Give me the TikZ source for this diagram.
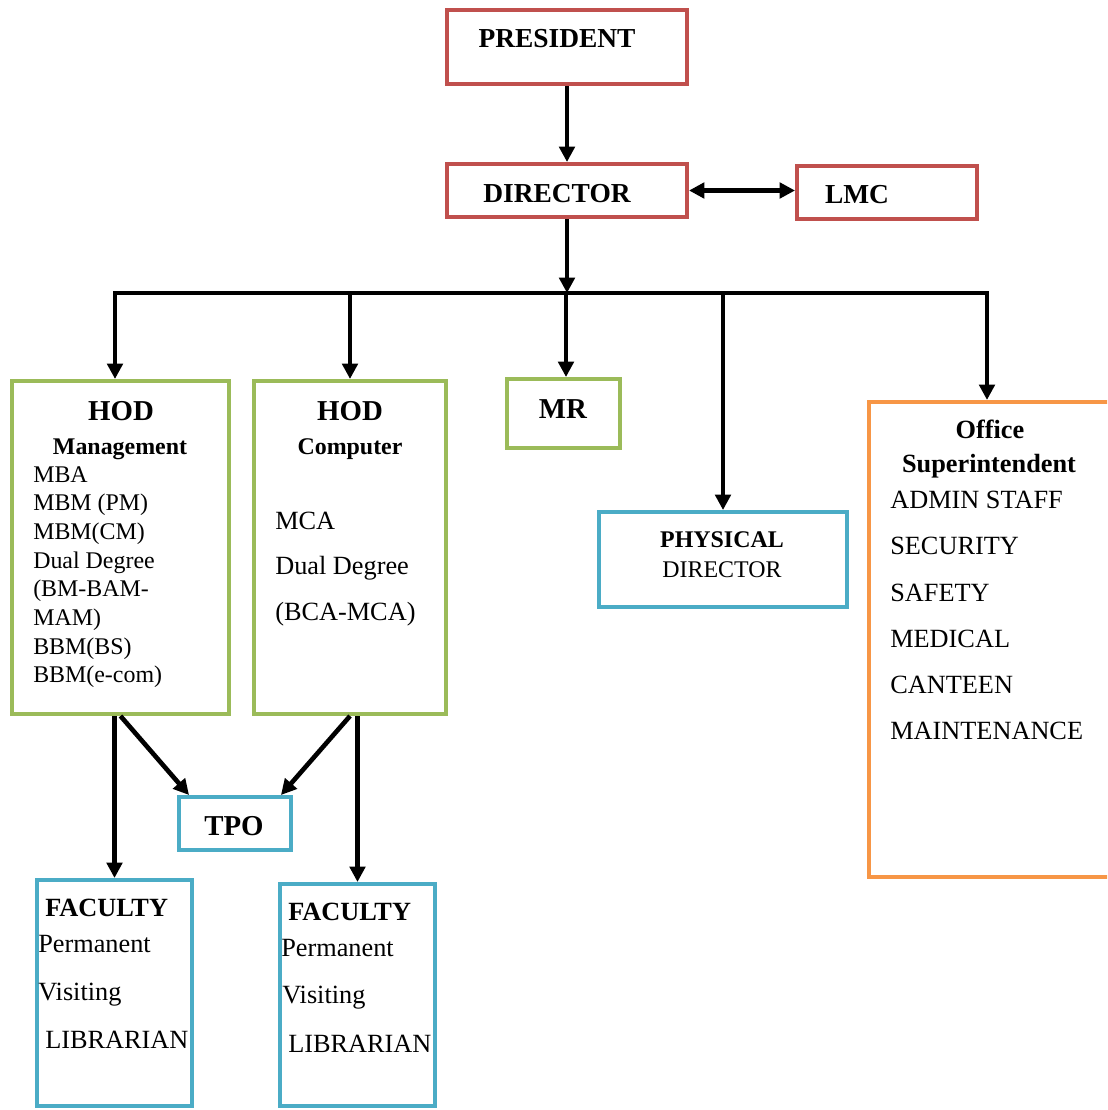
\documentclass[tikz,border=0pt]{standalone}
\usepackage{fontspec}
\setmainfont{Liberation Serif}
\usetikzlibrary{arrows.meta}
\definecolor{boxred}{HTML}{C0504D}
\definecolor{boxgreen}{HTML}{9BBB59}
\definecolor{boxblue}{HTML}{4BACC6}
\definecolor{boxorange}{HTML}{F79646}
\begin{document}
\begin{tikzpicture}[x=0.025cm, y=-0.025cm, >={Triangle[length=11pt,width=11pt]},
    box/.style={draw, rectangle, line width=2.8pt, inner sep=0pt},
    link/.style={line width=3.3pt},
    head/.style={font=\fontsize{19.5}{23}\selectfont\bfseries, inner sep=0pt, anchor=base},
    bighead/.style={font=\fontsize{20.5}{24}\selectfont\bfseries, inner sep=0pt, anchor=base},
    subhead/.style={font=\fontsize{17}{20}\selectfont\bfseries, inner sep=0pt, anchor=base},
    listhead/.style={font=\fontsize{18.7}{22}\selectfont\bfseries, inner sep=0pt, anchor=base},
    item/.style={font=\fontsize{18.7}{22}\selectfont, inner sep=0pt, anchor=base west},
    smallitem/.style={font=\fontsize{17}{20}\selectfont, inner sep=0pt, anchor=base west}]
    \path[use as bounding box, clip] (0,0) rectangle (1107,1110);
    % Top level
    \node[box, draw=boxred, minimum width=6cm, minimum height=1.85cm] (pres) at (567,47) {};
    \node[box, draw=boxred, minimum width=6cm, minimum height=1.325cm] (dir) at (567,190.5) {};
    \node[box, draw=boxred, minimum width=4.5cm, minimum height=1.325cm] (lmc) at (887,192.5) {};
    \node[head] (prestext) at (557,48) {PRESIDENT};
    \node[head] (dirtext) at (557,202) {DIRECTOR};
    \node[head] (lmctext) at (857,203) {LMC};
    % Departments
    \node[box, draw=boxgreen, minimum width=5.425cm, minimum height=8.325cm] (hodm) at (120.5,547.5) {};
    \node[box, draw=boxgreen, minimum width=4.8cm, minimum height=8.325cm] (hodc) at (350,547.5) {};
    \node[box, draw=boxgreen, minimum width=2.825cm, minimum height=1.725cm] (mr) at (563.5,413.5) {};
    \node[box, draw=boxblue, minimum width=6.2cm, minimum height=2.375cm] (phys) at (723,559.5) {};
    \node[box, draw=boxorange, minimum width=6.275cm, minimum height=11.875cm] (ofs) at (994.5,639.5) {};
    \node[box, draw=boxblue, minimum width=2.8cm, minimum height=1.325cm] (tpo) at (235,823.5) {};
    \node[box, draw=boxblue, minimum width=3.875cm, minimum height=5.65cm] (fac1) at (114.5,993) {};
    \node[box, draw=boxblue, minimum width=3.875cm, minimum height=5.55cm] (fac2) at (357.5,995) {};
    % HOD Management
    \node[bighead] (hodmhead) at (121,420) {HOD};
    \node[subhead] (hodmsub) at (120,454) {Management};
    \node[smallitem] (mba) at (33,482) {MBA};
    \node[smallitem] (mbmpm) at (33,510.7) {MBM (PM)};
    \node[smallitem] (mbmcm) at (33,539.4) {MBM(CM)};
    \node[smallitem] (dualm) at (33,568.1) {Dual Degree};
    \node[smallitem] (bmbam) at (33,596.8) {(BM-BAM-};
    \node[smallitem] (mam) at (33,625.5) {MAM)};
    \node[smallitem] (bbmbs) at (33,654.2) {BBM(BS)};
    \node[smallitem] (bbmec) at (33,682.9) {BBM(e-com)};
    % HOD Computer
    \node[bighead] (hodchead) at (350,420) {HOD};
    \node[subhead] (hodcsub) at (350,454) {Computer};
    \node[item] (mca) at (275,529) {MCA};
    \node[item] (dualc) at (275,574.5) {Dual Degree};
    \node[item] (bcamca) at (275,620) {(BCA-MCA)};
    % MR, physical director, TPO
    \node[bighead] (mrtext) at (563,418) {MR};
    \node[subhead] (physhead) at (722,547) {PHYSICAL};
    \node[font=\fontsize{17}{20}\selectfont, inner sep=0pt, anchor=base] (physsub) at (722,577) {DIRECTOR};
    \node[bighead] (tpotext) at (234,835) {TPO};
    % Office Superintendent
    \node[listhead] (ofshead) at (990,438) {Office};
    \node[listhead] (ofssub) at (989,472) {Superintendent};
    \node[item] (admin) at (890,508) {ADMIN STAFF};
    \node[item] (security) at (890,554) {SECURITY};
    \node[item] (safety) at (890,601) {SAFETY};
    \node[item] (medical) at (890,647) {MEDICAL};
    \node[item] (canteen) at (890,693) {CANTEEN};
    \node[item] (maint) at (890,739) {MAINTENANCE};
    % Faculty
    \node[listhead, anchor=base west] (fac1head) at (45,916) {FACULTY};
    \node[item] (perm1) at (38,952) {Permanent};
    \node[item] (visit1) at (38,1000) {Visiting};
    \node[item] (lib1) at (45,1048) {LIBRARIAN};
    \node[listhead, anchor=base west] (fac2head) at (288,920) {FACULTY};
    \node[item] (perm2) at (281,956) {Permanent};
    \node[item] (visit2) at (282,1003) {Visiting};
    \node[item] (lib2) at (288,1052) {LIBRARIAN};
    % Bus
    \coordinate (b1) at (115,293);
    \coordinate (b2) at (350,293);
    \coordinate (b3) at (566,293);
    \coordinate (b4) at (723,293);
    \coordinate (b5) at (987,293);
    % Arrows
    \draw[->, link] (pres) -- (dir);
    \draw[<->, link] (dir.east) -- (dir.east -| lmc.west);
    \draw[->, link] (dir.south) -- (dir.south |- b3);
    \draw[<->, link] (b1 |- hodm.north) -- (b1) -- (b5) -- (b5 |- ofs.north);
    \draw[->, link] (b2) -- (hodc.north);
    \draw[->, link] (b3) -- (b3 |- mr.north);
    \draw[->, link] (b4) -- (phys.north);
    \draw[->, link] (hodm.south) -- ([xshift=0.3cm]tpo.north west);
    \draw[->, link] (hodc.south) -- ([xshift=-0.3cm]tpo.north east);
    \draw[->, link] (fac1.north |- hodm.south) -- (fac1.north);
    \draw[->, link] (fac2.north |- hodc.south) -- (fac2.north);
\end{tikzpicture}
\end{document}
